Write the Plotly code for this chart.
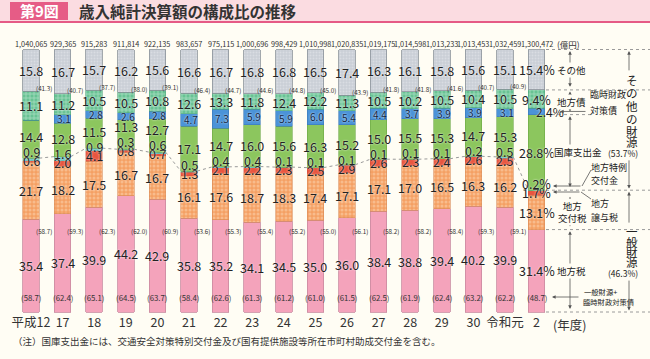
import plotly.graph_objects as go

# ---------------- data ----------------
years = ['平成12', '17', '18', '19', '20', '21', '22', '23', '24', '25', '26', '27', '28', '29', '30', '令和元', '2']
totals = [1040065, 929365, 915283, 911814, 922135, 983657, 975115, 1000696, 998429, 1010998,
          1020835, 1019175, 1014598, 1013233, 1013453, 1032459, 1300472]
chihozei = [35.4, 37.4, 39.9, 44.2, 42.9, 35.8, 35.2, 34.1, 34.5, 35.0, 36.0, 38.4, 38.8, 39.4, 40.2, 39.9, 31.4]
kofuzei = [21.7, 18.2, 17.5, 16.7, 16.7, 16.1, 17.6, 18.7, 18.3, 17.4, 17.1, 17.1, 17.0, 16.5, 16.3, 16.2, 13.1]
joyozei = [0.6, 2.0, 4.1, 0.8, 0.7, 1.3, 2.1, 2.2, 2.3, 2.5, 2.9, 2.6, 2.3, 2.4, 2.6, 2.5, 1.7]
tokurei = [0.9, 1.6, 0.9, 0.3, 0.6, 0.5, 0.4, 0.4, 0.1, 0.1, 0.1, 0.1, 0.1, 0.1, 0.2, 0.5, 0.2]
kokko = [14.4, 12.8, 11.5, 11.3, 12.7, 17.1, 14.7, 16.0, 15.6, 16.3, 15.2, 15.0, 15.5, 15.3, 14.7, 15.3, 28.8]
chihosai = [11.1, 11.2, 10.5, 10.5, 10.8, 12.6, 13.3, 11.8, 12.4, 12.2, 11.3, 10.5, 10.2, 10.5, 10.4, 10.5, 9.4]
rinzai = [0.0, 3.1, 2.8, 2.6, 2.8, 4.7, 7.3, 5.9, 5.9, 6.0, 5.4, 4.4, 3.7, 3.9, 3.9, 3.1, 2.4]
sonota = [15.8, 16.7, 15.7, 16.2, 15.6, 16.6, 16.7, 16.8, 16.8, 16.5, 17.4, 16.3, 16.1, 15.8, 15.6, 15.1, 15.4]
ippan = [58.7, 59.3, 62.3, 62.0, 60.9, 53.6, 55.3, 55.4, 55.2, 55.0, 56.1, 58.2, 58.2, 58.4, 59.3, 59.1, 46.3]
ippan_rinzai = [58.7, 62.4, 65.1, 64.5, 63.7, 58.4, 62.6, 61.3, 61.2, 61.0, 61.5, 62.5, 61.9, 62.4, 63.2, 62.2, 48.7]
sonota_zaigen = [41.3, 40.7, 37.7, 38.0, 39.1, 46.4, 44.7, 44.6, 44.8, 45.0, 43.9, 41.8, 41.8, 41.6, 40.7, 40.9, 53.7]

# ---------------- layout helpers ----------------
W, H = 650, 359
X0, X1 = -0.981, 19.589
Y0, Y1 = -17.905, 118.857
FONT = 'Noto Sans CJK JP'
BG = '#fffdf4'
TXT = '#222222'
BW = 0.52
n = len(years)
xs = list(range(n))


def px2x(px):
    return X0 + px / W * (X1 - X0)


def py2y(py):
    return Y1 - py / H * (Y1 - Y0)


UNIT = H / (Y1 - Y0)  # pixels per percent

jisai = [a - b for a, b in zip(chihosai, rinzai)]

fig = go.Figure()
series = [
    ('地方税', chihozei, dict(color='#f4a3bb', line=dict(color='#c98aa0', width=0.8))),
    ('地方交付税', kofuzei, dict(color='#f5a66d', pattern=dict(shape='.', bgcolor='#f4a064', fgcolor='#fcd7b6', size=4, solidity=0.45),
                            line=dict(color='#d98a55', width=0.6))),
    ('地方譲与税', joyozei, dict(color='#e9553f', line=dict(color='#c94a38', width=0.4))),
    ('地方特例交付金', tokurei, dict(color='#72c9c6', line=dict(color='#5aa9a6', width=0.4))),
    ('国庫支出金', kokko, dict(color='#8cc65e', line=dict(color='#6aa645', width=0.6))),
    ('臨時財政対策債', rinzai, dict(color='#4b93d8', line=dict(color='#3a78b8', width=0.6))),
    ('地方債', jisai, dict(color='#6cc497', pattern=dict(shape='+', bgcolor='#68c394', fgcolor='#f4fbf7', size=4, solidity=0.32),
                         line=dict(color='#4fa57c', width=0.6))),
    ('その他', sonota, dict(color='#cdd2d8', pattern=dict(shape='.', bgcolor='#c9ced5', fgcolor='#e9ecef', size=3, solidity=0.35),
                         line=dict(color='#8b929a', width=0.8))),
]
for name, vals, mk in series:
    fig.add_trace(go.Bar(x=xs, y=vals, width=BW, marker=mk, name=name, hoverinfo='skip'))

# cumulative boundaries
c1 = [a for a in chihozei]
c2 = [a + b for a, b in zip(c1, kofuzei)]
c3 = [a + b for a, b in zip(c2, joyozei)]
c4 = [a + b for a, b in zip(c3, tokurei)]
c5 = [a + b for a, b in zip(c4, kokko)]
c6 = [a + b for a, b in zip(c5, rinzai)]
c7 = [a + b for a, b in zip(c5, chihosai)]
c8 = [a + b for a, b in zip(c7, sonota)]

# dotted line joining the tops of 一般財源
cx, cy = [], []
for i in range(n - 1):
    cx += [i + BW / 2, i + 1 - BW / 2, None]
    cy += [c4[i], c4[i + 1], None]
fig.add_trace(go.Scatter(x=cx, y=cy, mode='lines', line=dict(color='#9a9a9a', width=1, dash='dot'),
                         hoverinfo='skip', showlegend=False))

anns = []


def ann(x, y, text, size=12.5, color=TXT, xanchor='center', yanchor='middle', xref='x', yref='y',
        bgcolor=None, halo=False, bold=False):
    f = dict(family=FONT, size=size, color=color)
    if halo:
        f['shadow'] = '0px 0px 2px #ffffff'
    if bold:
        f['weight'] = 'bold'
    d = dict(x=x, y=y, text=text, showarrow=False, xref=xref, yref=yref, xanchor=xanchor,
             yanchor=yanchor, font=f, borderpad=0)
    if bgcolor:
        d['bgcolor'] = bgcolor
    anns.append(d)


def arrow(x_px, y_head, y_tail, both=True, color='#555555'):
    anns.append(dict(x=px2x(x_px), y=y_head, ax=px2x(x_px), ay=y_tail, xref='x', yref='y', axref='x', ayref='y',
                     text='', showarrow=True, arrowhead=2, arrowside='end+start' if both else 'end',
                     arrowsize=0.9, arrowwidth=0.8, arrowcolor=color, standoff=0, startstandoff=0))


def harrow(x_head_px, x_tail_px, y, color='#555555'):
    anns.append(dict(x=px2x(x_head_px), y=y, ax=px2x(x_tail_px), ay=y, xref='x', yref='y', axref='x', ayref='y',
                     text='', showarrow=True, arrowhead=2, arrowside='end', arrowsize=0.9, arrowwidth=0.8,
                     arrowcolor=color, standoff=0))


# value labels
for i in range(n):
    sfx = '%' if i == n - 1 else ''
    fmt = lambda v: f'{v:.1f}{sfx}'
    ann(i, c1[i] / 2, fmt(chihozei[i]), halo=True)
    ann(i, (c1[i] + c2[i]) / 2, fmt(kofuzei[i]), halo=True)
    yj = (c2[i] + c3[i]) / 2 + 0.3
    yt = yj + 9 / UNIT
    yk = max((c4[i] + c5[i]) / 2, yt + 15 / UNIT)
    ann(i, yj, fmt(joyozei[i]), halo=True)
    ann(i, yt, fmt(tokurei[i]), halo=True)
    ann(i, yk, fmt(kokko[i]), halo=True)
    ann(i, (c6[i] + c7[i]) / 2, fmt(chihosai[i]), halo=True)
    if rinzai[i] > 0:
        if i == n - 1:
            ann(px2x(550), (c5[i] + c6[i]) / 2, fmt(rinzai[i]), size=12, halo=True)
        else:
            ann(i + 0.06, (c5[i] + c6[i]) / 2, fmt(rinzai[i]), size=10, color='#10243f', halo=True)
    ann(i, (c7[i] + c8[i]) / 2, fmt(sonota[i]), halo=True)
    # totals
    ann(i, py2y(43.5), f'{totals[i]:,}', size=7.3, color='#333333')
    # bracket figures
    ann(i, py2y(297), f'({ippan_rinzai[i]:.1f})', size=7.8, color='#333333')
    if i < n - 1:
        ann(i + 0.42, c7[i] + 1.0, f'({sonota_zaigen[i]:.1f})', size=6.3, color='#333333')
        ann(i + 0.42, py2y(231), f'({ippan[i]:.1f})', size=6.3, color='#333333')

ann(px2x(556), py2y(43.5), '(億円)', size=8.5, color='#333333', xanchor='left')
ann(px2x(569), py2y(324), '(年度)', size=12.5, color='#333333')

# ---------------- right-hand brackets ----------------
L = n - 1
b_top, b_son, b_kok, b_ipp, b_kof, b_zei, b_0 = c8[L], c7[L], c5[L], c4[L], c2[L], c1[L], 0.0
g = 1.6 / UNIT
colA, colB = 570, 629
RS = 9

shapes = []
for yv in [b_top, b_son, b_ipp, b_zei, b_0]:
    shapes.append(dict(type='line', xref='x', yref='y', x0=px2x(546), x1=px2x(650), y0=yv, y1=yv,
                       line=dict(color='#9a9a9a', width=1, dash='dot')))
shapes.append(dict(type='line', xref='x', yref='y', x0=px2x(546), x1=px2x(592), y0=b_kok, y1=b_kok,
                   line=dict(color='#9a9a9a', width=1, dash='dot')))

arrow(colA, b_top - g, b_son + g)
arrow(colA, b_son - g, b_kok + g)
arrow(colA, b_kok - g, b_ipp + g)
arrow(colA, b_kof - g, b_zei + g)
arrow(colA, b_zei - g, b_0 + g)

ann(px2x(571), (b_top + b_son) / 2, 'その他', size=RS + 0.5, bgcolor=BG)
ann(px2x(571), (b_son + b_kok) / 2, '地方債', size=RS + 0.5, bgcolor=BG)
ann(px2x(578), (b_kok + b_ipp) / 2, '国庫支出金', size=RS + 0.5, bgcolor=BG)
ann(px2x(572), (b_kof + b_zei) / 2, '地方<br>交付税', size=RS + 0.5, bgcolor=BG)
ann(px2x(571), (b_zei + b_0) / 2, '地方税', size=RS + 0.5, bgcolor=BG)

# その他の財源 (vertical)
midB1 = (b_top + b_ipp) / 2
for ch, off in zip('その他の財源', [-40, -27, -14, -1, 11, 22]):
    ann(px2x(632), midB1 - off / UNIT, ch, size=11.5)
ann(px2x(623), midB1 - 33 / UNIT, f'({sonota_zaigen[L]:.1f}%)', size=8.5)
arrow(colB, b_top - g, midB1 + 48 / UNIT, both=False)
arrow(colB, b_ipp + g, midB1 - 39 / UNIT, both=False)

midB2 = (b_ipp + b_0) / 2
for ch, off in zip('一般財源', [-20, -9, 1, 11]):
    ann(px2x(632), midB2 - off / UNIT, ch, size=11.5)
ann(px2x(623), midB2 - 22 / UNIT, f'({ippan[L]:.1f}%)', size=8.5)
arrow(colB, b_ipp - g, midB2 + 27 / UNIT, both=False)
arrow(colB, b_0 + g, midB2 - 28 / UNIT, both=False)

# 臨時財政対策債 leader
ann(px2x(589), py2y(94), '臨時財政', size=RS, xanchor='left')
ann(px2x(589), py2y(110), '対策債', size=RS, xanchor='left')
harrow(560, 587, (c5[L] + c6[L]) / 2)

# 地方特例交付金 leader
ann(px2x(590), py2y(167), '地方特例', size=RS, xanchor='left')
ann(px2x(590), py2y(180), '交付金', size=RS, xanchor='left')
shapes.append(dict(type='line', xref='x', yref='y', x0=px2x(591), y0=py2y(170), x1=px2x(582), y1=py2y(186),
                   line=dict(color='#555555', width=0.8)))
harrow(553, 582, py2y(186))

# 地方譲与税 leader
ann(px2x(590), py2y(203), '地方', size=RS, xanchor='left')
ann(px2x(590), py2y(217), '譲与税', size=RS, xanchor='left')
shapes.append(dict(type='line', xref='x', yref='y', x0=px2x(591), y0=py2y(199), x1=px2x(581), y1=py2y(192),
                   line=dict(color='#555555', width=0.8)))
harrow(553, 581, py2y(192))

# 一般財源+臨時財政対策債 leader
ann(px2x(583), py2y(292), '一般財源+', size=7.3, xanchor='left')
ann(px2x(582), py2y(302), '臨時財政対策債', size=7.3, xanchor='left')
harrow(552, 580, py2y(297))

# ---------------- title band ----------------
shapes += [
    dict(type='rect', xref='paper', yref='paper', x0=0, x1=1, y0=1 - 21 / H, y1=1,
         fillcolor='#fbdce1', line=dict(width=0), layer='below'),
    dict(type='rect', xref='paper', yref='paper', x0=10 / W, x1=68 / W, y0=1 - 20 / H, y1=1 - 2 / H,
         fillcolor='#e65c86', line=dict(width=0), layer='below'),
    dict(type='line', xref='paper', yref='paper', x0=0, x1=1, y0=1 - 22 / H, y1=1 - 22 / H,
         line=dict(color='#e55a85', width=2)),
]
ann(39 / W, 1 - 11 / H, '第9図', size=15, color='#ffffff', xref='paper', yref='paper', bold=True)
ann(78 / W, 1 - 11 / H, '歳入純計決算額の構成比の推移', size=15.5, color='#333333', xanchor='left',
    xref='paper', yref='paper', bold=True)

# note
ann(12 / W, 1 - 341 / H, '（注）国庫支出金には、交通安全対策特別交付金及び国有提供施設等所在市町村助成交付金を含む。',
    size=9.5, color='#333333', xanchor='left', xref='paper', yref='paper')

fig.update_layout(
    width=W, height=H, autosize=False,
    margin=dict(l=0, r=0, t=0, b=0, pad=0),
    paper_bgcolor=BG, plot_bgcolor=BG,
    barmode='stack', showlegend=False, hovermode=False,
    xaxis=dict(range=[X0, X1], tickvals=xs, ticktext=years, showgrid=False, zeroline=False, showline=False,
               ticks='', anchor='free', position=1 - 313 / H, fixedrange=True,
               tickfont=dict(family=FONT, size=12.5, color='#333333')),
    yaxis=dict(range=[Y0, Y1], visible=False, fixedrange=True),
    annotations=anns, shapes=shapes,
    font=dict(family=FONT),
)

fig.write_html('out.html', config={'displayModeBar': False},
               post_script="document.body.style.margin='0';document.body.style.background='" + BG + "';")
